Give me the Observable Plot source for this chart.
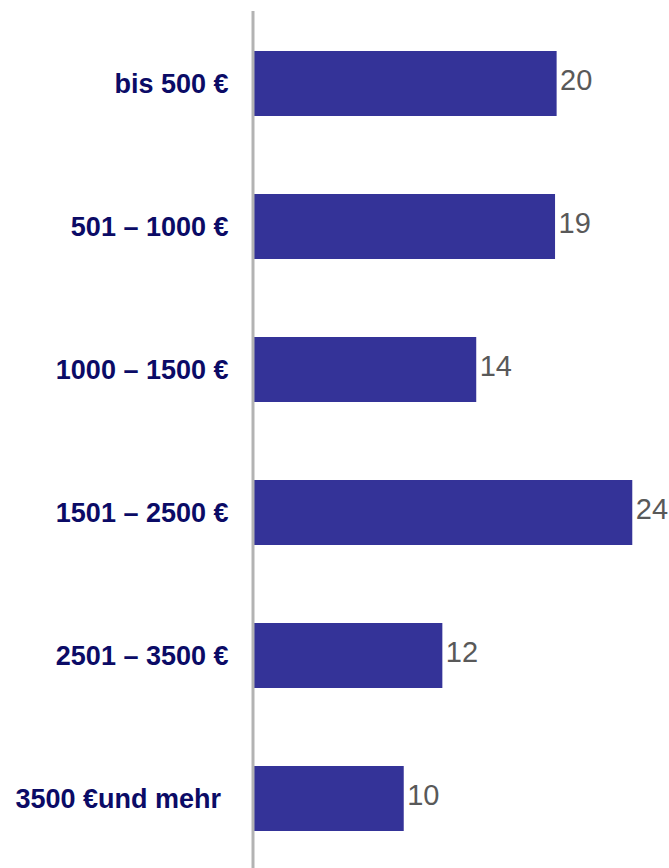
<!DOCTYPE html>
<html>
<head>
<meta charset="utf-8">
<script src="https://cdn.jsdelivr.net/npm/d3@7"></script>
<script src="https://cdn.jsdelivr.net/npm/@observablehq/plot@0.6"></script>
<style>
  html, body { margin: 0; padding: 0; background: #ffffff; }
  #chart svg { display: block; font-family: "Liberation Sans", Arial, sans-serif; }
</style>
</head>
<body>
<div id="chart"></div>
<script>
const categories = ["bis 500 €", "501 – 1000 €", "1000 – 1500 €", "1501 – 2500 €", "2501 – 3500 €", "3500 €und mehr\u00a0"];
const values = [19.2, 19.1, 14.1, 24.0, 11.95, 9.5];
const valueLabels = ["20", "19", "14", "24", "12", "10"];

const data = categories.map((c, i) => ({category: c, value: values[i], label: valueLabels[i]}));

const chart = Plot.plot({
  width: 669,
  height: 868,
  marginLeft: 254,
  marginRight: 0,
  marginTop: 11,
  marginBottom: 0,
  style: {fontFamily: '"Liberation Sans", Arial, sans-serif', background: "#ffffff", overflow: "visible"},
  x: {domain: [0, 26.33], axis: null},
  y: {domain: categories, range: [12, 869.7], paddingInner: 0.547, paddingOuter: 0.26, label: null},
  marks: [
    Plot.barX(data, {x: "value", y: "category", fill: "#343398"}),
    Plot.ruleX([0], {stroke: "#b3b3b3", strokeWidth: 3, dx: -1.5}),
    Plot.text(data, {x: "value", y: "category", text: "label", textAnchor: "start", dx: 3, dy: -3, fontSize: 29, fill: "#595959"}),
    Plot.axisY({tickSize: 0, tickPadding: 26, fontSize: 27, fontWeight: "bold", color: "#0b0b66", label: null})
  ]
});
document.getElementById("chart").appendChild(chart);
</script>
</body>
</html>
